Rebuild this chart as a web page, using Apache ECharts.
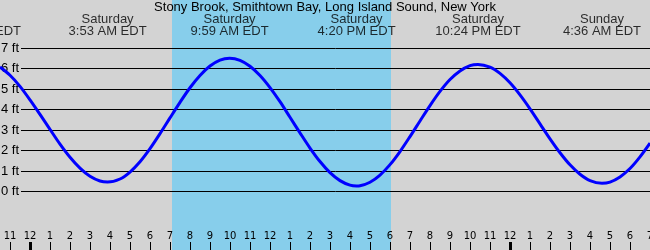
<!DOCTYPE html>
<html>
<head>
<meta charset="utf-8">
<script src="https://cdn.jsdelivr.net/npm/echarts@6/dist/echarts.min.js"></script>
<style>
html,body{margin:0;padding:0;background:#D3D3D3;}
#chart{width:650px;height:250px;}
</style>
</head>
<body>
<div id="chart"></div>
<script>
// ---- data (hours since Saturday 00:00 EDT) ----
var titleText = 'Stony Brook, Smithtown Bay, Long Island Sound, New York';
var curveHours = [-1.5, -1, -0.5, 0, 0.5, 1, 1.5, 2, 2.5, 3, 3.5, 3.88,
                  4.5, 5, 5.5, 6, 6.5, 7, 7.5, 8, 8.5, 9, 9.5, 9.98,
                  10.5, 11, 11.5, 12, 12.5, 13, 13.5, 14, 14.5, 15, 15.5, 16, 16.33,
                  16.5, 17, 17.5, 18, 18.5, 19, 19.5, 20, 20.5, 21, 21.5, 22, 22.4,
                  23, 23.5, 24, 24.5, 25, 25.5, 26, 26.5, 27, 27.5, 28, 28.6,
                  29, 29.5, 30, 30.5, 31];
var curveFeet  = [6.07, 5.67, 5.13, 4.47, 3.76, 3.03, 2.31, 1.67, 1.14, 0.74, 0.51, 0.46,
                  0.61, 0.95, 1.45, 2.09, 2.82, 3.59, 4.35, 5.06, 5.66, 6.12, 6.41, 6.5,
                  6.40, 6.11, 5.66, 5.07, 4.38, 3.62, 2.86, 2.12, 1.46, 0.92, 0.53, 0.31, 0.27,
                  0.28, 0.45, 0.80, 1.31, 1.95, 2.68, 3.44, 4.19, 4.88, 5.46, 5.88, 6.14, 6.2,
                  6.07, 5.76, 5.30, 4.71, 4.03, 3.30, 2.57, 1.89, 1.30, 0.84, 0.53, 0.4,
                  0.46, 0.71, 1.12, 1.69, 2.36];
var extremeHours = [-2.4, 3.88, 9.98, 16.33, 22.4, 28.6];
var extremeDays  = ['Friday', 'Saturday', 'Saturday', 'Saturday', 'Saturday', 'Sunday'];
var extremeTimes = ['9:36 PM EDT', '3:53 AM EDT', '9:59 AM EDT', '4:20 PM EDT', '10:24 PM EDT', '4:36 AM EDT'];
var daylight = [7.1, 18.05];          // sunrise, sunset
var tickHours = [];
for (var h = -1; h <= 31; h++) tickHours.push(h);
var midnightHours = [0, 24];

var hourMin = -1.5, hourMax = 31;

function hourLabel(v) {
  var m = ((Math.round(v) % 12) + 12) % 12;
  return String(m === 0 ? 12 : m);
}

var chart = echarts.init(document.getElementById('chart'), null, {renderer: 'canvas'});
var FONT = 'Liberation Sans';

chart.setOption({
  animation: false,
  backgroundColor: '#D3D3D3',
  title: {
    text: titleText,
    left: 'center',
    top: 1,
    padding: 0,
    textStyle: {fontFamily: FONT, fontSize: 13, fontWeight: 'normal', color: '#000', lineHeight: 12}
  },
  grid: [
    {left: 0, right: 0, top: 0, bottom: 0, outerBoundsMode: 'none', containLabel: false},
    {left: 0, right: 0, top: 48, bottom: 58.5, outerBoundsMode: 'none', containLabel: false},
    {left: 21, right: 0, top: 48, bottom: 58.5, outerBoundsMode: 'none', containLabel: false}
  ],
  xAxis: [
    {
      gridIndex: 0, type: 'value', min: hourMin, max: hourMax, position: 'bottom', z: 3,
      axisLine: {show: false}, splitLine: {show: false},
      axisTick: {show: true, inside: true, length: 8, customValues: tickHours, lineStyle: {color: '#000', width: 1}},
      axisLabel: {show: true, inside: true, margin: 9, customValues: tickHours, formatter: hourLabel,
                  fontFamily: 'DejaVu Sans', fontSize: 10, color: '#000'}
    },
    {
      gridIndex: 0, type: 'value', min: hourMin, max: hourMax, position: 'bottom', z: 3,
      axisLine: {show: false}, splitLine: {show: false}, axisLabel: {show: false},
      axisTick: {show: true, inside: true, length: 8, customValues: midnightHours, lineStyle: {color: '#000', width: 3}}
    },
    {
      gridIndex: 1, type: 'value', min: hourMin, max: hourMax, show: false
    },
    {
      gridIndex: 2, type: 'value', min: 0, max: 1, show: false
    }
  ],
  yAxis: [
    {gridIndex: 0, type: 'value', min: 0, max: 1, show: false},
    {gridIndex: 1, type: 'value', min: 0, max: 7, show: false},
    {
      gridIndex: 2, type: 'value', min: 0, max: 7, interval: 1, z: 3,
      axisLine: {show: false}, axisTick: {show: false},
      splitLine: {show: true, lineStyle: {color: '#000', width: 1}},
      axisLabel: {margin: 2, formatter: function (v) { return v + ' ft'; },
                  fontFamily: FONT, fontSize: 13, color: '#000'}
    }
  ],
  series: [
    {
      name: 'daylight', type: 'line', xAxisIndex: 0, yAxisIndex: 0, data: [], z: 0,
      markArea: {
        silent: true,
        itemStyle: {color: '#87CEEB', opacity: 1},
        data: [[{xAxis: daylight[0]}, {xAxis: daylight[1]}]]
      }
    },
    {
      name: 'extremes', type: 'scatter', xAxisIndex: 0, yAxisIndex: 0, z: 4, clip: false,
      symbolSize: 0, silent: true,
      data: extremeHours.map(function (h) { return [h, 1]; }),
      label: {
        show: true, position: 'bottom', distance: 13, align: 'center',
        fontFamily: FONT, fontSize: 13, lineHeight: 12, color: '#000',
        formatter: function (p) { return extremeDays[p.dataIndex] + '\n' + extremeTimes[p.dataIndex]; }
      }
    },
    {
      name: 'tide', type: 'line', xAxisIndex: 2, yAxisIndex: 1, z: 5,
      data: curveHours.map(function (h, i) { return [h, curveFeet[i]]; }),
      smooth: 0.3, showSymbol: false, symbol: 'none',
      lineStyle: {color: '#0000FF', width: 3}
    }
  ]
});
</script>
</body>
</html>
